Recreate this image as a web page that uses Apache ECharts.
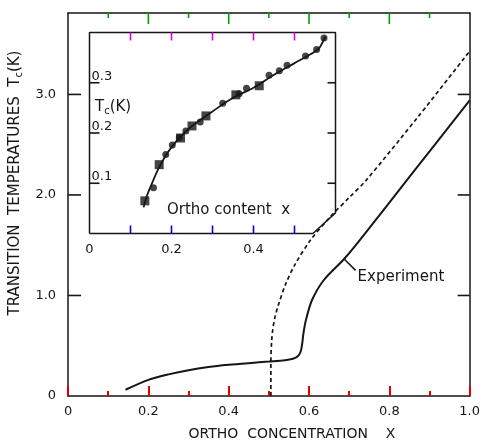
<!DOCTYPE html>
<html><head><meta charset="utf-8">
<script src="https://cdn.jsdelivr.net/npm/echarts/dist/echarts.min.js"></script>
<style>html,body{margin:0;padding:0;background:#fff}#c{width:483px;height:446px}</style>
</head><body><div id="c"></div>
<script>
// Main plot: solid experimental curve
const experimentX = [0.143,0.2,0.25,0.3,0.35,0.4,0.45,0.5,0.54,0.56,0.572,0.579,0.583,0.586,0.592,0.607,0.636,0.689,0.75,0.85,1.0];
const experimentY = [0.062,0.16,0.215,0.257,0.288,0.31,0.327,0.342,0.355,0.37,0.395,0.44,0.52,0.62,0.75,0.95,1.149,1.37,1.67,2.18,2.94];
// Main plot: dashed theoretical curve
const theoryX = [0.505,0.505,0.507,0.51,0.515,0.522,0.542,0.566,0.603,0.652,0.701,0.742,0.872,1.0];
const theoryY = [0.0,0.35,0.55,0.67,0.78,0.884,1.116,1.315,1.547,1.779,1.978,2.145,2.78,3.43];
// Leader line for the "Experiment" label
const leaderX = [0.688,0.716];
const leaderY = [1.36,1.25];
// Inset: measured points
const circleX = [0.156,0.186,0.202,0.219,0.235,0.270,0.325,0.365,0.383,0.438,0.463,0.482,0.527,0.554,0.572];
const circleY = [0.091,0.157,0.176,0.191,0.204,0.222,0.259,0.278,0.289,0.315,0.324,0.335,0.353,0.366,0.389];
const squareX = [0.135,0.170,0.222,0.250,0.284,0.357,0.414];
const squareY = [0.065,0.137,0.190,0.214,0.234,0.276,0.294];
// Inset: fitted curve
const fitX = [0.132,0.14,0.155,0.17,0.19,0.21,0.24,0.27,0.30,0.35,0.40,0.45,0.50,0.54,0.56,0.575];
const fitY = [0.052,0.075,0.105,0.132,0.16,0.182,0.207,0.226,0.243,0.27,0.29,0.316,0.339,0.357,0.369,0.392];
// Inset frame outline (corner cut)
const insetFrameX = [0,0.545,0.6,0.6,0,0];
const insetFrameY = [0,0,0.041,0.4,0.4,0];
// Tick labels / tick positions
const mainXLabels = [0,0.2,0.4,0.6,0.8,1.0];
const mainYLabels = [0,1,2,3];
const mainXMajorTicks = [0.2,0.4,0.6,0.8];
const mainXMinorTicks = [0.1,0.3,0.5,0.7,0.9];
const mainYTicks = [1,2,3];
const insetXLabels = [0,0.2,0.4];
const insetYLabels = [0.1,0.2,0.3];
const insetXTicks = [0.1,0.2,0.3,0.4,0.5];
const insetYTicks = [0.1,0.2,0.3];

const zip = (a,b) => a.map((v,i)=>[v,b[i]]);
const INK = '#161616';
const FONT = 'DejaVu Sans';
const fmt = v => v === 0 ? '0' : v.toFixed(1);
const MAIN = {xMin:0, xMax:1, yMin:0, yMax:3.81, axis:0, hPx:383};
const INSET = {xMin:0, xMax:0.6, yMin:0, yMax:0.4, axis:2, hPx:201};
const TW = 1.6;

function rectTicks(g, side, values, len, color) {
  let data, size, offset;
  if (side === 'bottom') { data = values.map(v => [v, g.yMin]); size = [TW, len]; offset = [0, -len/2]; }
  else if (side === 'top') { data = values.map(v => [v, g.yMax]); size = [TW, len]; offset = [0, len/2]; }
  else if (side === 'left') { data = values.map(v => [g.xMin, v]); size = [len, TW]; offset = [len/2, 0]; }
  else { data = values.map(v => [g.xMax, v]); size = [len, TW]; offset = [-len/2, 0]; }
  return {type:'scatter', xAxisIndex:g.axis, yAxisIndex:g.axis, clip:false, silent:true, z:5,
    data:data, symbol:'rect', symbolSize:size, symbolOffset:offset,
    itemStyle:{color:color||INK, opacity:1}, emphasis:{disabled:true}};
}
function customTicks(g, side, values, len, color) {
  return {type:'custom', xAxisIndex:g.axis, yAxisIndex:g.axis, clip:false, silent:true, z:5,
    data: values.map(v => [v, g.yMin]),
    renderItem: (params, api) => {
      const p = api.coord([api.value(0), side==='bottom' ? g.yMin : g.yMax]);
      const y = side==='bottom' ? p[1]-len : p[1];
      return {type:'rect', shape:{x:p[0]-TW/2, y:y, width:TW, height:len}, style:{fill:color||INK}};
    }};
}

const axLine = () => ({show:true, onZero:false, lineStyle:{color:INK,width:1.5}});
const noLine = () => ({show:false, onZero:false});
const noTick = {show:false};

const chart = echarts.init(document.getElementById('c'), null, {renderer:'canvas'});
chart.setOption({
  backgroundColor:'#fff',
  animation:false,
  textStyle:{fontFamily:FONT,color:INK},
  grid:[
    {left:67, top:13, width:409, height:383},
    {left:89.5, top:32.5, width:246, height:201}
  ],
  xAxis:[
    {gridIndex:0, type:'value', min:0, max:1, interval:0.2, position:'bottom',
     axisLine:axLine(),
     axisTick:{show:true, inside:true, length:10, lineStyle:{color:'#e00000',width:2}},
     minorTick:{show:true, splitNumber:2, length:5, lineStyle:{color:'#e00000',width:2}},
     splitLine:{show:false}, minorSplitLine:{show:false},
     axisLabel:{customValues:mainXLabels, formatter:fmt, margin:9, fontSize:13, color:INK, fontFamily:FONT},
     name:'ORTHO  CONCENTRATION    X', nameLocation:'middle', nameGap:31,
     nameTextStyle:{fontSize:14, color:INK, fontFamily:FONT, padding:[0,0,0,46]}},
    {gridIndex:0, type:'value', min:0, max:1, interval:0.2, position:'top',
     axisLine:axLine(), axisTick:noTick, splitLine:{show:false}, axisLabel:{show:false}},
    {gridIndex:1, type:'value', min:0, max:0.6, position:'bottom',
     axisLine:noLine(), axisTick:noTick, splitLine:{show:false},
     axisLabel:{customValues:insetXLabels, formatter:fmt, margin:10, fontSize:13, color:INK, fontFamily:FONT}},
    {gridIndex:1, type:'value', min:0, max:0.6, position:'top',
     axisLine:noLine(), axisTick:noTick, splitLine:{show:false}, axisLabel:{show:false}}
  ],
  yAxis:[
    {gridIndex:0, type:'value', min:0, max:3.81, interval:1, position:'left',
     axisLine:axLine(), axisTick:noTick, splitLine:{show:false},
     axisLabel:{customValues:mainYLabels, formatter:fmt, margin:12, fontSize:13, color:INK, fontFamily:FONT},
     name:'{a|TRANSITION  TEMPERATURES  T}{s|c}{a|(K)}', nameLocation:'middle', nameGap:37,
     nameTextStyle:{padding:[0,0,0,43],
       rich:{a:{fontSize:15,fontFamily:FONT,color:INK,lineHeight:18},
             s:{fontSize:10,fontFamily:FONT,color:INK,lineHeight:10,verticalAlign:'bottom'}}}},
    {gridIndex:0, type:'value', min:0, max:3.81, interval:1, position:'right',
     axisLine:axLine(), axisTick:noTick, splitLine:{show:false}, axisLabel:{show:false}},
    {gridIndex:1, type:'value', min:0, max:0.4, position:'left',
     axisLine:noLine(), axisTick:noTick, splitLine:{show:false},
     axisLabel:{inside:true, customValues:insetYLabels, formatter:v=>v.toFixed(1), margin:2,
       verticalAlign:'bottom', fontSize:13, color:INK, fontFamily:FONT}},
    {gridIndex:1, type:'value', min:0, max:0.4, position:'right',
     axisLine:noLine(), axisTick:noTick, splitLine:{show:false}, axisLabel:{show:false}}
  ],
  series:[
    {type:'line', xAxisIndex:0, yAxisIndex:0, data:zip(experimentX,experimentY), showSymbol:false,
     smooth:0.3, lineStyle:{color:INK,width:2}},
    {type:'line', xAxisIndex:0, yAxisIndex:0, data:zip(theoryX,theoryY), showSymbol:false,
     smooth:0.3, lineStyle:{color:INK,width:1.7,type:[4,3]}},
    {type:'line', xAxisIndex:0, yAxisIndex:0, data:zip(leaderX,leaderY), showSymbol:false,
     lineStyle:{color:INK,width:1.5},
     endLabel:{show:true, formatter:'Experiment', fontSize:15, fontFamily:FONT, color:INK, distance:2, offset:[0,7]}},
    {type:'line', xAxisIndex:2, yAxisIndex:2, data:zip(insetFrameX,insetFrameY), showSymbol:false, clip:false,
     lineStyle:{color:INK,width:1.5}},
    {type:'line', xAxisIndex:2, yAxisIndex:2, data:zip(fitX,fitY), showSymbol:false, smooth:0.3,
     lineStyle:{color:INK,width:1.8}},
    {type:'scatter', xAxisIndex:2, yAxisIndex:2, data:zip(circleX,circleY), symbol:'circle', symbolSize:7,
     itemStyle:{color:INK}},
    {type:'scatter', xAxisIndex:2, yAxisIndex:2, data:zip(squareX,squareY), symbol:'rect', symbolSize:9,
     itemStyle:{color:INK}},
    rectTicks(MAIN, 'top', mainXMajorTicks, 11, '#00a000'),
    rectTicks(MAIN, 'top', mainXMinorTicks, 5, '#00a000'),
    rectTicks(MAIN, 'left', mainYTicks, 13),
    rectTicks(MAIN, 'right', mainYTicks, 12),
    customTicks(INSET, 'bottom', insetXTicks, 8, '#0000e0'),
    rectTicks(INSET, 'top', insetXTicks, 8, '#e000e0'),
    rectTicks(INSET, 'left', insetYTicks, 10),
    rectTicks(INSET, 'right', insetYTicks, 8)
  ],
  graphic:[
    {type:'text', left:95, top:100, style:{
      text:'{a|T}{s|c}{a|(K)}',
      rich:{a:{fontSize:15,fontFamily:FONT,fill:INK,lineHeight:18},
            s:{fontSize:10,fontFamily:FONT,fill:INK,lineHeight:10,verticalAlign:'bottom'}}}},
    {type:'text', left:167, top:203, style:{text:'Ortho content  x', fontSize:15, fontFamily:FONT, fill:INK}}
  ]
});
</script>
</body></html>
